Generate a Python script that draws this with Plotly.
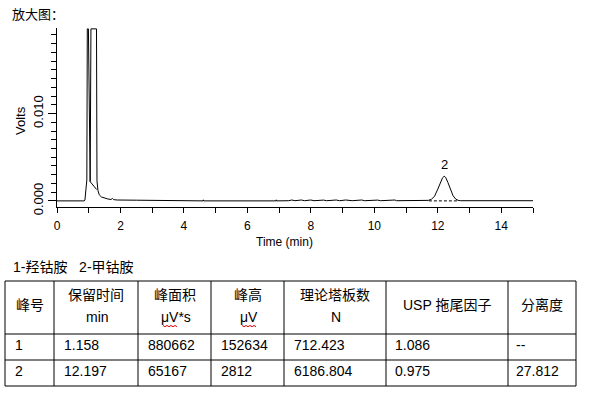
import plotly.graph_objects as go

# ---------------- data ----------------
time_min = [0.00, 0.40, 0.86, 0.88, 0.91, 0.94, 0.955, 0.99, 1.045, 1.07, 1.245, 1.26,
            1.29, 1.33, 1.40, 1.50, 1.60, 1.70, 1.75, 1.79, 1.90, 2.50, 3.25, 3.28,
            4.60, 4.61, 4.62, 6.90, 6.91, 6.92,
            7.30, 7.40, 7.50, 7.70, 7.80, 8.00, 8.10, 8.40, 8.50, 8.80, 8.90, 9.10,
            9.30, 9.60, 9.70, 10.10, 10.20, 10.65, 10.70,
            11.60, 11.70, 11.80, 11.90, 12.00, 12.08, 12.15, 12.20, 12.25, 12.32,
            12.40, 12.48, 12.56, 12.64, 12.72, 15.00]
volts = [0.0, 0.0, 0.0, 0.0001, 0.0012, 0.0024, 0.0197, 0.0197, 0.0022, 0.0197, 0.0197, 0.0023,
         0.0012, 0.0007, 0.00045, 0.0003, 0.00022, 0.00016, 0.00028, 0.00014, 0.0001, 0.00008, 0.00007, 0.0,
         0.0, 0.00012, 0.0, 0.0, 0.00012, 0.0,
         0.00002, 0.0001, 0.00002, 0.0001, 0.00002, 0.0001, 0.00002, 0.00009, 0.00002, 0.0001, 0.00002, 0.0001,
         0.00002, 0.0001, 0.00002, 0.00009, 0.00002, 0.0001, 0.00002,
         0.00003, 0.00006, 0.00018, 0.00055, 0.00135, 0.00215, 0.00265, 0.00282, 0.00268, 0.0021,
         0.0013, 0.0006, 0.00022, 0.00006, 0.00002, 0.00002]

peak1_drop_t = [1.045, 1.25]
peak1_drop_v = [0.0022, 0.0013]
peak2_base_t = [11.72, 12.66]
peak2_base_v = [0.0, 0.0]

peak_label_text = ["2"]
peak_label_t = [12.20]
peak_label_v = [0.0042]

title_text = "放大图："
legend_text = "1-羟钴胺   2-甲钴胺"
x_title = "Time (min)"
y_title = "Volts"

header_line1 = ["峰号", "保留时间", "峰面积", "峰高", "理论塔板数", "USP 拖尾因子", "分离度"]
header_line2 = ["", "min", "μV*s", "μV", "N", "", ""]
peak_no = ["1", "2"]
ret_time = ["1.158", "12.197"]
area = ["880662", "65167"]
height = ["152634", "2812"]
plates = ["712.423", "6186.804"]
tailing = ["1.086", "0.975"]
resolution = ["--", "27.812"]

# ---------------- layout geometry ----------------
W, H = 592, 396
ML, MR, MT, MB = 57, 59, 28, 189
PW = W - ML - MR
PH = H - MT - MB


def px(x):
    return (x - ML) / PW


def py(y):
    return (H - MB - y) / PH


FONT = "Liberation Sans, Arial, Noto Sans CJK SC, sans-serif"
col_edges = [5, 54, 138, 211, 284, 386, 508, 576]
row_edges = [281, 334, 360, 386]

fig = go.Figure()
fig.add_trace(go.Scatter(x=time_min, y=volts, mode="lines",
                         line=dict(color="black", width=1), hoverinfo="skip"))
fig.add_trace(go.Scatter(x=peak1_drop_t, y=peak1_drop_v, mode="lines",
                         line=dict(color="black", width=1), hoverinfo="skip"))
fig.add_trace(go.Scatter(x=peak2_base_t, y=peak2_base_v, mode="lines",
                         line=dict(color="black", width=1, dash="3px,2px"), hoverinfo="skip"))

annotations = []
for t, v, s in zip(peak_label_t, peak_label_v, peak_label_text):
    annotations.append(dict(x=t, y=v, xref="x", yref="y", text=s, showarrow=False,
                            font=dict(family=FONT, size=13, color="black"),
                            xanchor="center", yanchor="middle"))

annotations.append(dict(x=px(10), y=py(14.5), xref="paper", yref="paper", text=title_text,
                        showarrow=False, xanchor="left", yanchor="middle",
                        font=dict(family=FONT, size=13, color="black")))
annotations.append(dict(x=px(21), y=py(121), xref="paper", yref="paper", text=y_title,
                        showarrow=False, xanchor="center", yanchor="middle", textangle=-90,
                        font=dict(family=FONT, size=13, color="black")))
annotations.append(dict(x=px(284), y=py(242), xref="paper", yref="paper", text=x_title,
                        showarrow=False, xanchor="center", yanchor="middle",
                        font=dict(family=FONT, size=12, color="black")))
annotations.append(dict(x=px(11), y=py(267), xref="paper", yref="paper", text=legend_text,
                        showarrow=False, xanchor="left", yanchor="middle",
                        font=dict(family=FONT, size=14, color="black")))

# table header
for i, (h1, h2) in enumerate(zip(header_line1, header_line2)):
    cx = (col_edges[i] + col_edges[i + 1]) / 2
    if h2:
        annotations.append(dict(x=px(cx), y=py(295), xref="paper", yref="paper", text=h1,
                                showarrow=False, xanchor="center", yanchor="middle",
                                font=dict(family=FONT, size=14, color="black")))
        annotations.append(dict(x=px(cx + 1), y=py(317), xref="paper", yref="paper", text=h2,
                                showarrow=False, xanchor="center", yanchor="middle",
                                font=dict(family=FONT, size=14, color="black")))
    else:
        annotations.append(dict(x=px(cx), y=py(305), xref="paper", yref="paper", text=h1,
                                showarrow=False, xanchor="center", yanchor="middle",
                                font=dict(family=FONT, size=14, color="black")))

# table body
columns = [peak_no, ret_time, area, height, plates, tailing, resolution]
row_y = [345, 371]
pads = [8, 8, 8, 8, 8, 7, 6]
for ci, col in enumerate(columns):
    for ri, val in enumerate(col):
        annotations.append(dict(x=px(col_edges[ci] + pads[ci]), y=py(row_y[ri]), xref="paper",
                                yref="paper", text=val, showarrow=False, xanchor="left",
                                yanchor="middle",
                                font=dict(family=FONT, size=14, color="black")))

shapes = []
for xe in col_edges:
    shapes.append(dict(type="line", xref="paper", yref="paper", x0=px(xe), x1=px(xe),
                       y0=py(row_edges[0]), y1=py(row_edges[-1]),
                       line=dict(color="black", width=1)))
for ye in row_edges:
    shapes.append(dict(type="line", xref="paper", yref="paper", x0=px(col_edges[0]),
                       x1=px(col_edges[-1]), y0=py(ye), y1=py(ye),
                       line=dict(color="black", width=1)))


def wavy(x0, x1, y0):
    pts = []
    x = x0
    k = 0
    while x <= x1:
        pts.append((px(x), py(y0 + (1.2 if k % 2 else 0))))
        x += 2
        k += 1
    return "M " + " L ".join(f"{a:.5f},{b:.5f}" for a, b in pts)


for (a, b) in [(163, 177), (242, 257)]:
    shapes.append(dict(type="path", xref="paper", yref="paper", path=wavy(a, b, 325.5),
                       line=dict(color="#e00000", width=1)))

fig.update_layout(
    width=W, height=H, autosize=False,
    margin=dict(l=ML, r=MR, t=MT, b=MB, pad=0),
    paper_bgcolor="white", plot_bgcolor="white",
    showlegend=False,
    annotations=annotations, shapes=shapes,
    xaxis=dict(range=[0, 15], showline=True, linecolor="black", linewidth=1,
               ticks="outside", ticklen=5, tickwidth=1, tickcolor="black",
               tick0=0, dtick=2, showgrid=False, zeroline=False, automargin=False,
               ticklabelstandoff=3,
               minor=dict(dtick=1, ticks="outside", ticklen=5, tickcolor="black", tickwidth=1),
               tickfont=dict(family=FONT, size=12, color="black")),
    yaxis=dict(range=[-0.0007, 0.0198], showline=True, linecolor="black", linewidth=1,
               ticks="outside", ticklen=8, tickwidth=1, tickcolor="black",
               tick0=0, dtick=0.01, tickformat=".3f", tickangle=-90,
               showgrid=False, zeroline=False, automargin=False,
               minor=dict(dtick=0.001, ticks="outside", ticklen=5, tickcolor="black", tickwidth=1),
               tickfont=dict(family=FONT, size=13, color="black")),
)

fig.write_html("out.html", config={"displayModeBar": False},
               post_script="document.body.style.margin='0px';document.body.style.overflow='hidden';")
